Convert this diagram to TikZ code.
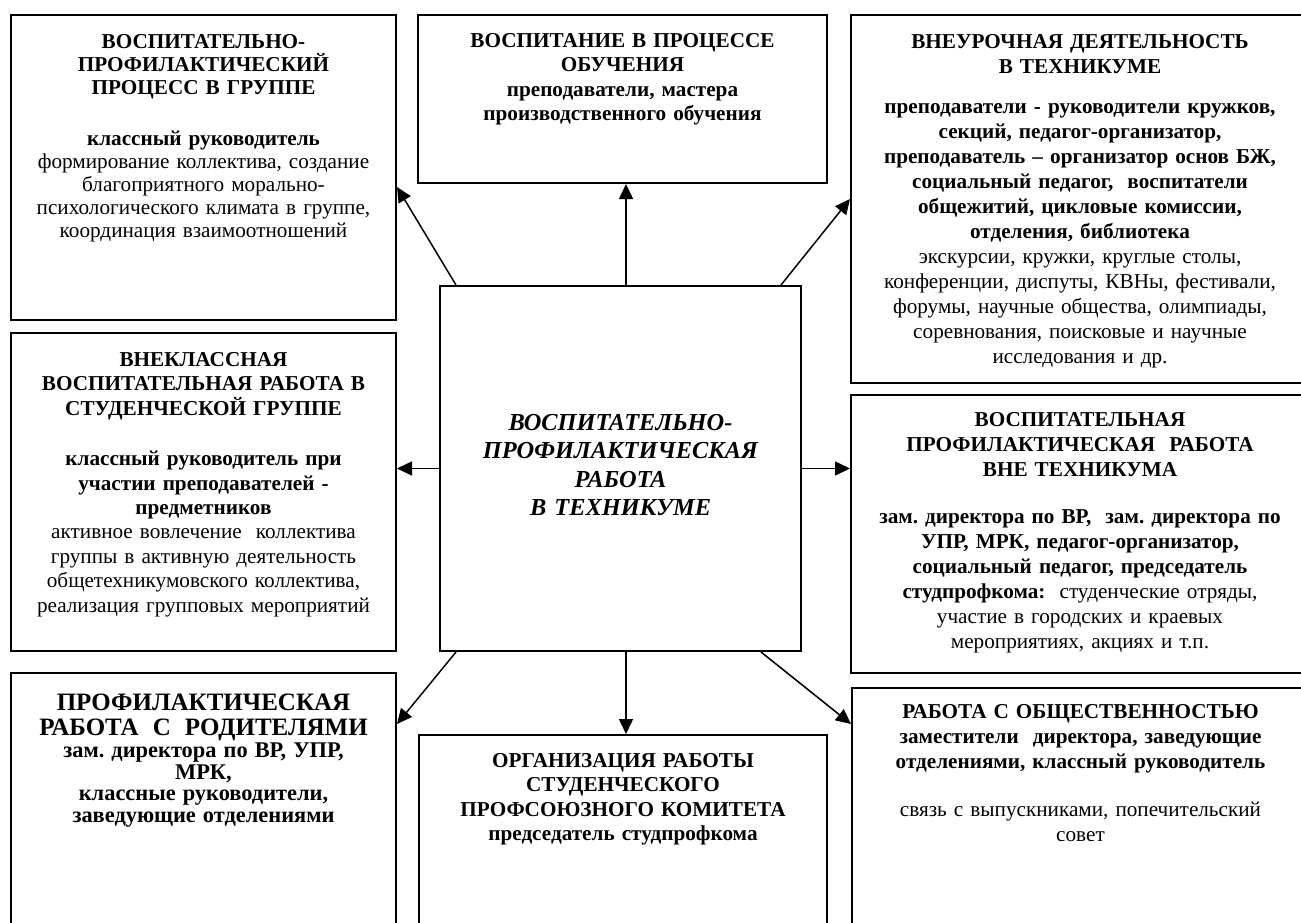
\documentclass[tikz,border=0pt]{standalone}
\usepackage{fontspec}
\setmainfont{Liberation Serif}
\usetikzlibrary{arrows.meta,fit}
\frenchspacing

\tikzset{
  blok/.style={draw, line width=1pt, inner sep=0pt},
  tekst/.style={anchor=north, align=center, inner sep=0pt, font=\fontsize{10.6}{12.2}\selectfont},
  pijl/.style={-{Triangle[length=7.5pt,width=7pt]}, line width=0.75pt}
}

\begin{document}
\begin{tikzpicture}[x=0.5pt, y=-0.5pt]
        \path[use as bounding box, fill=white] (0,0) rectangle (1301,922);
        \clip (0,0) rectangle (1301,922);

        % Blokken
        \node[blok, fit={(11,15) (396,320)}] (tl) {};
        \node[blok, fit={(418,15) (827,183)}] (tm) {};
        \node[blok, fit={(851,15) (1309,383)}] (tr) {};
        \node[blok, fit={(11,333) (396,651)}] (ml) {};
        \node[blok, fit={(851,395) (1309,673)}] (mr) {};
        \node[blok, fit={(11,673) (396,950)}] (bl) {};
        \node[blok, fit={(419,735) (827,950)}] (bm) {};
        \node[blok, fit={(852,688) (1309,950)}] (br) {};
        \node[blok, fit={(440,286) (801,651)}] (vpr) {};

        % Teksten
        \node[tekst, text width=188pt, font=\fontsize{10.6}{11.6}\selectfont] (tl-t) at ([yshift=-10pt]tl.north)
          {\textbf{ВОСПИТАТЕЛЬНО-\\ПРОФИЛАКТИЧЕСКИЙ\\ПРОЦЕСС В ГРУППЕ}\\[13.5pt]
           \textbf{классный руководитель}\\
           формирование коллектива, создание\\
           благоприятного морально-\\
           психологического климата в группе,\\
           координация взаимоотношений};
        \node[tekst, text width=198pt] (tm-t) at ([yshift=-9.5pt]tm.north)
          {\textbf{ВОСПИТАНИЕ В ПРОЦЕССЕ\\ОБУЧЕНИЯ\\преподаватели, мастера\\производственного обучения}};
        \node[tekst, text width=226pt, font=\fontsize{10.6}{12.5}\selectfont] (tr-t) at ([yshift=-10pt]tr.north)
          {\textbf{ВНЕУРОЧНАЯ ДЕЯТЕЛЬНОСТЬ\\В ТЕХНИКУМЕ}\\[7.5pt]
           \textbf{преподаватели - руководители кружков,\\
           секций, педагог-организатор,\\
           преподаватель – организатор основ БЖ,\\
           социальный педагог,\ \ воспитатели\\
           общежитий, цикловые комиссии,\\
           отделения, библиотека}\\
           экскурсии, кружки, круглые столы,\\
           конференции, диспуты, КВНы, фестивали,\\
           форумы, научные общества, олимпиады,\\
           соревнования, поисковые и научные\\
           исследования и др.};
        \node[tekst, text width=188pt] (ml-t) at ([yshift=-10pt]ml.north)
          {\textbf{ВНЕКЛАССНАЯ\\ВОСПИТАТЕЛЬНАЯ РАБОТА В\\СТУДЕНЧЕСКОЙ ГРУППЕ}\\[13pt]
           \textbf{классный руководитель при\\участии преподавателей -\\предметников}\\
           активное вовлечение\ \ коллектива\\
           группы в активную деятельность\\
           общетехникумовского коллектива,\\
           реализация групповых мероприятий};
        \node[tekst, text width=226pt, font=\fontsize{10.6}{12.5}\selectfont] (mr-t) at ([yshift=-9pt]mr.north)
          {\textbf{ВОСПИТАТЕЛЬНАЯ\\ПРОФИЛАКТИЧЕСКАЯ\ \ РАБОТА\\ВНЕ ТЕХНИКУМА}\\[11pt]
           \textbf{зам. директора по ВР,\ \ зам. директора по\\
           УПР, МРК, педагог-организатор,\\
           социальный педагог, председатель\\
           студпрофкома:}\ \ студенческие отряды,\\
           участие в городских и краевых\\
           мероприятиях, акциях и т.п.};
        \node[tekst, text width=188pt] (bl-t) at ([yshift=-11pt]bl.north)
          {{\fontsize{12.5}{12.5}\selectfont\bfseries ПРОФИЛАКТИЧЕСКАЯ\\РАБОТА\ \ С\ \ РОДИТЕЛЯМИ\par}
           {\fontsize{11.2}{10.8}\selectfont\bfseries зам. директора по ВР, УПР,\\МРК,\\
           классные руководители,\\заведующие отделениями\par}};
        \node[tekst, text width=198pt] (bm-t) at ([yshift=-9.5pt]bm.north)
          {\textbf{ОРГАНИЗАЦИЯ РАБОТЫ\\СТУДЕНЧЕСКОГО\\ПРОФСОЮЗНОГО КОМИТЕТА\\председатель студпрофкома}};
        \node[tekst, text width=226pt, font=\fontsize{10.6}{12.5}\selectfont] (br-t) at ([yshift=-8.5pt]br.north)
          {\textbf{РАБОТА С ОБЩЕСТВЕННОСТЬЮ\\заместители\ \ директора, заведующие\\отделениями, классный руководитель}\\[11.5pt]
           связь с выпускниками, попечительский\\
           совет};
        \node[tekst, text width=176pt, font=\fontsize{12.2}{14.2}\selectfont\bfseries\itshape] (vpr-t) at ([yshift=-64.5pt]vpr.north)
          {ВОСПИТАТЕЛЬНО-\\ПРОФИЛАКТИЧЕСКАЯ\\РАБОТА\\В ТЕХНИКУМЕ\hspace*{0.5em}};

        % Pijlen vanuit het centrum
        \draw[pijl] ([xshift=8.5pt]vpr.north west) -- ([yshift=-9.75pt]tl.east);
        \draw[pijl] ([xshift=2.75pt]vpr.north) -- ([xshift=2.75pt]vpr.north |- tm.south);
        \draw[pijl] ([xshift=-10.5pt]vpr.north east) -- (tr.west);
        \draw[pijl] (vpr.west) -- (vpr.west -| ml.east);
        \draw[pijl] (vpr.east) -- (vpr.east -| mr.west);
        \draw[pijl] ([xshift=8.5pt]vpr.south west) -- ([yshift=-26pt]bl.north east);
        \draw[pijl] ([xshift=2.75pt]vpr.south) -- ([xshift=2.75pt]vpr.south |- bm.north);
        \draw[pijl] ([xshift=-20.5pt]vpr.south east) -- ([yshift=-18.5pt]br.north west);
    \end{tikzpicture}
\end{document}
